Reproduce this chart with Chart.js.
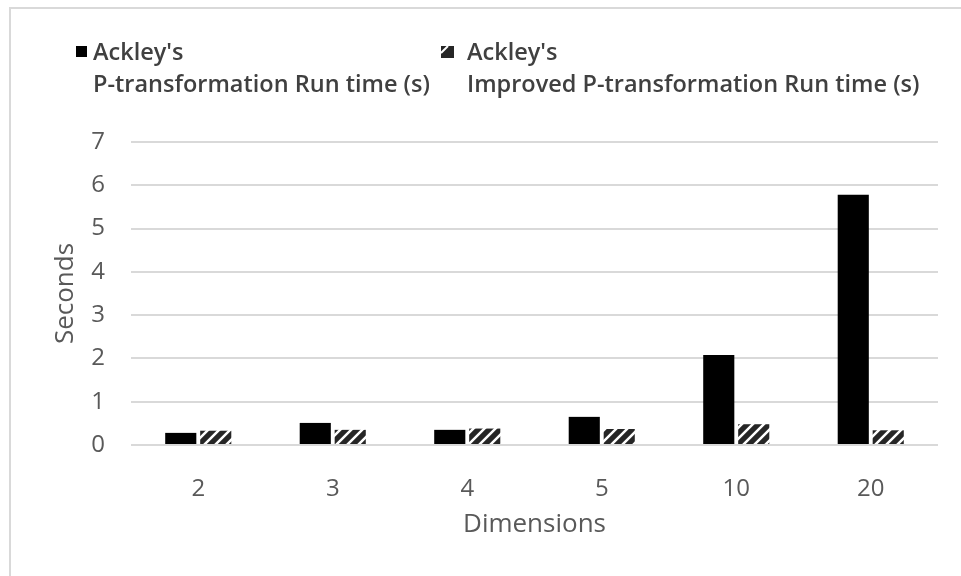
<!DOCTYPE html>
<html>
<head>
<meta charset="utf-8">
<title>Ackley's run time</title>
<script src="https://cdn.jsdelivr.net/npm/chart.js@4.4.1/dist/chart.umd.min.js"></script>
<style>
    html, body {
        margin: 0;
        padding: 0;
        background: #fff;
        overflow: hidden;
    }

    #wrap {
        position: relative;
        width: 961px;
        height: 576px;
        overflow: hidden;
    }

    #frame {
        position: absolute;
        left: 9px;
        top: 7px;
        width: 1000px;
        height: 700px;
        border: 2px solid #d9d9d9;
    }

    #chart {
        position: absolute;
        left: 0;
        top: 0;
    }

    .legend-item {
        position: absolute;
        font-family: "Open Sans", sans-serif;
        font-weight: 600;
        font-size: 23.5px;
        line-height: 32px;
        color: #404040;
        white-space: nowrap;
    }

    .swatch {
        position: absolute;
        width: 11px;
        height: 11px;
    }
</style>
</head>
<body>
<div id="wrap">
    <div id="frame"></div>
    <canvas id="chart" width="961" height="576"></canvas>

    <div class="swatch" style="left:76px; top:46px; background:#000;"></div>
    <div class="legend-item" style="left:93px; top:35px;">Ackley's<br>P-transformation Run time (s)</div>

    <canvas class="swatch" id="hatchSwatch" width="13" height="12" style="left:441px; top:46px; width:13px; height:12px;"></canvas>
    <div class="legend-item" style="left:467px; top:35px;">Ackley's<br>Improved P-transformation Run time (s)</div>
</div>

<script>
const dimensions = ['2', '3', '4', '5', '10', '20'];
const pTransformTime = [0.28, 0.51, 0.35, 0.65, 2.08, 5.78];
const improvedTime = [0.33, 0.35, 0.38, 0.37, 0.48, 0.34];
const yMin = 0;
const yMax = 7;
const yStep = 1;

const axisColor = '#595959';
const gridColor = '#d9d9d9';

// dark fill with thin white "/" stripes, like the office hatch fill
function makeHatch(ctx) {
    const size = 11;
    const c = document.createElement('canvas');
    c.width = size;
    c.height = size;
    const g = c.getContext('2d');
    g.fillStyle = '#262626';
    g.fillRect(0, 0, size, size);
    g.strokeStyle = '#ffffff';
    g.lineWidth = 2.5;
    g.beginPath();
    g.moveTo(0, size); g.lineTo(size, 0);
    g.moveTo(-size / 2, size / 2); g.lineTo(size / 2, -size / 2);
    g.moveTo(size / 2, size * 1.5); g.lineTo(size * 1.5, size / 2);
    g.stroke();
    return ctx.createPattern(c, 'repeat');
}

function drawSwatch() {
    const sw = document.getElementById('hatchSwatch');
    const g = sw.getContext('2d');
    g.fillStyle = '#262626';
    g.fillRect(0, 0, sw.width, sw.height);
    g.strokeStyle = '#ffffff';
    g.lineWidth = 2;
    g.beginPath();
    g.moveTo(0, 7); g.lineTo(7, 0);
    g.stroke();
}

function drawChart() {
    const ctx = document.getElementById('chart').getContext('2d');
    const hatch = makeHatch(ctx);

    new Chart(ctx, {
        type: 'bar',
        data: {
            labels: dimensions,
            datasets: [
                {
                    label: "Ackley's P-transformation Run time (s)",
                    data: pTransformTime,
                    backgroundColor: '#000000',
                    borderWidth: 0
                },
                {
                    label: "Ackley's Improved P-transformation Run time (s)",
                    data: improvedTime,
                    backgroundColor: hatch,
                    borderWidth: 0
                }
            ]
        },
        options: {
            responsive: false,
            animation: false,
            events: [],
            layout: {
                padding: {
                    left: 46,
                    right: 23,
                    top: 142,
                    bottom: 32
                }
            },
            datasets: {
                bar: {
                    categoryPercentage: 0.52,
                    barPercentage: 0.89
                }
            },
            plugins: {
                legend: { display: false },
                tooltip: { enabled: false }
            },
            scales: {
                x: {
                    grid: { display: false },
                    border: { display: false },
                    ticks: {
                        color: axisColor,
                        font: { family: 'Open Sans', size: 24 },
                        padding: 22,
                        maxRotation: 0
                    },
                    title: {
                        display: true,
                        text: 'Dimensions',
                        color: axisColor,
                        font: { family: 'Open Sans', size: 26 }
                    },
                    afterFit: s => { s.height = 99; }
                },
                y: {
                    min: yMin,
                    max: yMax,
                    grid: {
                        color: gridColor,
                        lineWidth: 2,
                        drawTicks: false
                    },
                    border: { display: false },
                    ticks: {
                        stepSize: yStep,
                        color: axisColor,
                        font: { family: 'Open Sans', size: 24 },
                        padding: 26
                    },
                    title: {
                        display: true,
                        text: 'Seconds',
                        color: axisColor,
                        font: { family: 'Open Sans', size: 26 }
                    },
                    afterFit: s => { s.width = 85; }
                }
            }
        }
    });
}

document.fonts.load('24px "Open Sans"').then(() => {
    drawSwatch();
    drawChart();
}, () => {
    drawSwatch();
    drawChart();
});
</script>
</body>
</html>
